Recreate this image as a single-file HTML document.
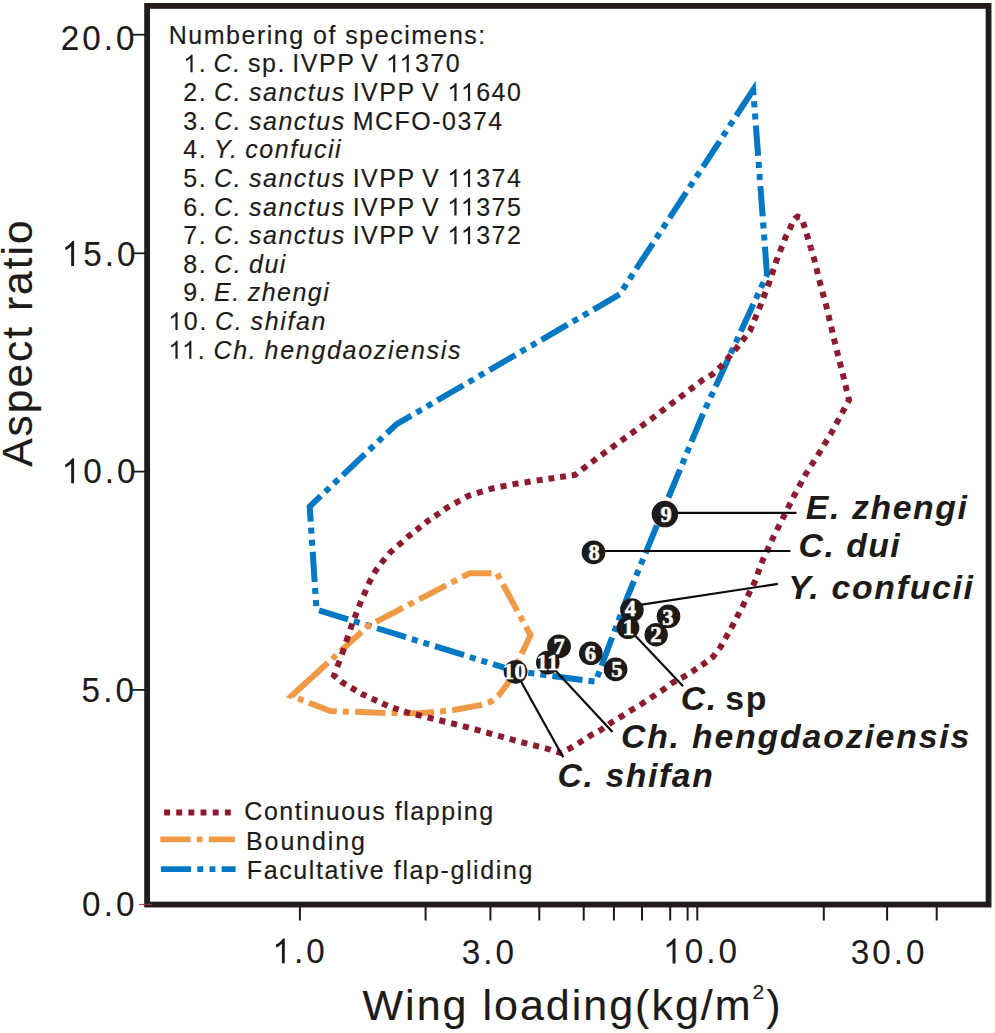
<!DOCTYPE html>
<html><head><meta charset="utf-8"><style>
html,body{margin:0;padding:0;background:#fff;width:995px;height:1033px;overflow:hidden}
svg{display:block}
.h1{fill-opacity:0}
.cn{font-family:"Liberation Serif",serif;font-weight:bold;font-size:22.5px;fill:#fff;stroke:#fff;stroke-width:0.55px}
text{font-family:"Liberation Sans",sans-serif;fill:#1d1a18;stroke:#1d1a18;stroke-width:0.15px}
.h1{stroke-opacity:0}
</style></head><body>
<svg width="995" height="1033" viewBox="0 0 995 1033">
<rect x="147.1" y="5.9" width="841.45" height="898.65" fill="none" stroke="#211c19" stroke-width="5.8"/>
<line x1="132.5" y1="34.7" x2="145" y2="34.7" stroke="#1d1a18" stroke-width="1.8"/>
<line x1="132.5" y1="253.3" x2="145" y2="253.3" stroke="#1d1a18" stroke-width="1.8"/>
<line x1="132.5" y1="471.6" x2="145" y2="471.6" stroke="#1d1a18" stroke-width="1.8"/>
<line x1="132.5" y1="689.9" x2="145" y2="689.9" stroke="#1d1a18" stroke-width="1.8"/>
<line x1="139" y1="904.4" x2="152" y2="904.4" stroke="#b5303a" stroke-width="1"/>
<line x1="299.9" y1="906" x2="299.9" y2="920.5" stroke="#1d1a18" stroke-width="2"/>
<line x1="425.6" y1="906" x2="425.6" y2="920.5" stroke="#1d1a18" stroke-width="2"/>
<line x1="490.4" y1="906" x2="490.4" y2="920.5" stroke="#1d1a18" stroke-width="2"/>
<line x1="539.3" y1="906" x2="539.3" y2="920.5" stroke="#1d1a18" stroke-width="2"/>
<line x1="583.7" y1="906" x2="583.7" y2="920.5" stroke="#1d1a18" stroke-width="2"/>
<line x1="613.9" y1="906" x2="613.9" y2="920.5" stroke="#1d1a18" stroke-width="2"/>
<line x1="642.0" y1="906" x2="642.0" y2="920.5" stroke="#1d1a18" stroke-width="2"/>
<line x1="670.2" y1="906" x2="670.2" y2="920.5" stroke="#1d1a18" stroke-width="2"/>
<line x1="687.6" y1="906" x2="687.6" y2="920.5" stroke="#1d1a18" stroke-width="2"/>
<line x1="697.3" y1="906" x2="697.3" y2="920.5" stroke="#1d1a18" stroke-width="2"/>
<line x1="823.8" y1="906" x2="823.8" y2="920.5" stroke="#1d1a18" stroke-width="2"/>
<line x1="887.1" y1="906" x2="887.1" y2="920.5" stroke="#1d1a18" stroke-width="2"/>
<line x1="936.7" y1="906" x2="936.7" y2="920.5" stroke="#1d1a18" stroke-width="2"/>
<g fill="none" stroke="#0078c3" stroke-width="6" stroke-linejoin="miter">
<path d="M325.15,491.85 L329.57,487.66"/>
<path d="M333.98,483.48 L338.40,479.29"/>
<path d="M342.81,475.10 L364.89,454.17"/>
<path d="M369.30,449.99 L373.72,445.80"/>
<path d="M378.13,441.61 L382.55,437.43"/>
<path d="M386.96,433.24 L396.60,424.10 L411.27,415.57"/>
<path d="M416.48,412.54 L421.69,409.51"/>
<path d="M426.89,406.48 L432.10,403.45"/>
<path d="M437.31,400.42 L463.35,385.28"/>
<path d="M468.56,382.25 L473.77,379.22"/>
<path d="M478.98,376.19 L484.19,373.16"/>
<path d="M489.39,370.13 L515.43,354.98"/>
<path d="M520.64,351.95 L525.85,348.93"/>
<path d="M531.06,345.90 L536.27,342.87"/>
<path d="M541.48,339.84 L567.52,324.69"/>
<path d="M572.73,321.66 L577.93,318.63"/>
<path d="M583.14,315.60 L588.35,312.58"/>
<path d="M593.56,309.55 L619.60,294.40"/>
<path d="M622.93,289.30 L626.27,284.19"/>
<path d="M629.60,279.09 L632.93,273.98"/>
<path d="M636.26,268.88 L652.93,243.36"/>
<path d="M656.26,238.25 L659.59,233.15"/>
<path d="M662.93,228.05 L666.26,222.94"/>
<path d="M669.59,217.84 L686.26,192.32"/>
<path d="M689.59,187.21 L692.92,182.11"/>
<path d="M696.26,177.01 L699.59,171.90"/>
<path d="M702.92,166.80 L719.59,141.28"/>
<path d="M722.92,136.17 L726.25,131.07"/>
<path d="M729.59,125.96 L732.92,120.86"/>
<path d="M736.25,115.76 L753.20,89.80 L753.61,95.28"/>
<path d="M754.06,101.34 L754.51,107.39"/>
<path d="M754.97,113.45 L755.42,119.50"/>
<path d="M755.87,125.56 L758.13,155.83"/>
<path d="M758.59,161.88 L759.04,167.94"/>
<path d="M759.49,173.99 L759.94,180.05"/>
<path d="M760.40,186.10 L762.66,216.38"/>
<path d="M763.11,222.43 L763.56,228.49"/>
<path d="M764.01,234.54 L764.47,240.59"/>
<path d="M764.92,246.65 L767.00,274.50 L765.99,276.69"/>
<path d="M763.48,282.18 L760.96,287.66"/>
<path d="M758.44,293.15 L755.92,298.63"/>
<path d="M753.40,304.12 L740.82,331.55"/>
<path d="M738.30,337.03 L735.78,342.52"/>
<path d="M733.26,348.00 L730.74,353.49"/>
<path d="M728.23,358.97 L715.64,386.40"/>
<path d="M713.12,391.88 L710.60,397.37"/>
<path d="M708.08,402.85 L705.57,408.34"/>
<path d="M703.05,413.82 L702.60,414.80 L691.50,441.70"/>
<path d="M689.19,447.28 L686.89,452.86"/>
<path d="M684.59,458.44 L682.28,464.01"/>
<path d="M679.98,469.59 L668.47,497.49"/>
<path d="M666.16,503.07 L663.86,508.65"/>
<path d="M661.56,514.22 L659.26,519.80"/>
<path d="M656.95,525.38 L645.44,553.28"/>
<path d="M643.14,558.85 L640.83,564.43"/>
<path d="M638.53,570.01 L636.23,575.59"/>
<path d="M633.92,581.17 L627.10,597.70 L622.77,609.21"/>
<path d="M620.65,614.85 L618.52,620.50"/>
<path d="M616.40,626.15 L614.27,631.80"/>
<path d="M612.15,637.45 L601.52,665.69"/>
<path d="M599.40,671.34 L597.27,676.99"/>
<path d="M594.50,681.57 L588.48,680.77"/>
<path d="M582.46,679.97 L552.36,675.97"/>
<path d="M546.35,675.17 L540.33,674.37"/>
<path d="M534.31,673.57 L528.29,672.77"/>
<path d="M522.27,671.97 L515.00,671.00 L493.01,664.19"/>
<path d="M487.21,662.39 L481.41,660.59"/>
<path d="M475.61,658.80 L469.81,657.00"/>
<path d="M464.01,655.20 L435.01,646.22"/>
<path d="M429.21,644.42 L423.41,642.62"/>
<path d="M417.61,640.83 L411.81,639.03"/>
<path d="M406.01,637.23 L377.01,628.25"/>
<path d="M371.21,626.45 L365.41,624.65"/>
<path d="M359.61,622.86 L353.81,621.06"/>
<path d="M348.01,619.26 L319.01,610.28"/>
<path d="M316.27,606.08 L315.88,600.04"/>
<path d="M315.48,594.01 L315.08,587.97"/>
<path d="M314.68,581.94 L312.69,551.76"/>
<path d="M312.29,545.73 L311.89,539.69"/>
<path d="M311.49,533.66 L311.09,527.62"/>
<path d="M310.70,521.59 L309.70,506.50 L320.74,496.03"/>
</g>
<g fill="none" stroke="#ef9a46" stroke-width="6" stroke-linejoin="miter">
<path d="M298.06,698.52 L303.49,700.61"/>
<path d="M308.93,702.70 L330.50,711.00 L336.78,711.22"/>
<path d="M342.86,711.44 L348.94,711.65"/>
<path d="M355.02,711.87 L385.42,712.95"/>
<path d="M391.50,713.04 L397.58,713.10"/>
<path d="M403.66,713.15 L420.00,713.30 L434.02,712.04"/>
<path d="M440.07,711.42 L446.12,710.80"/>
<path d="M452.18,710.17 L453.80,710.00 L480.30,705.10 L482.04,704.53"/>
<path d="M487.82,702.62 L491.20,701.50 L493.11,699.86"/>
<path d="M497.73,695.90 L499.60,694.30 L506.90,684.60 L513.72,670.33"/>
<path d="M516.34,664.84 L518.96,659.35"/>
<path d="M521.58,653.86 L530.50,635.20 L525.91,626.72"/>
<path d="M523.04,621.42 L520.18,616.13"/>
<path d="M517.31,610.83 L502.97,584.34"/>
<path d="M500.11,579.04 L497.24,573.74"/>
<path d="M491.50,573.28 L469.50,573.20 L462.31,576.94"/>
<path d="M456.92,579.74 L451.54,582.55"/>
<path d="M446.15,585.35 L419.20,599.37"/>
<path d="M413.81,602.17 L408.42,604.97"/>
<path d="M403.03,607.78 L376.08,621.79"/>
<path d="M370.69,624.60 L368.00,626.00 L365.89,627.93"/>
<path d="M361.66,631.80 L340.54,651.12"/>
<path d="M336.32,654.99 L332.10,658.85"/>
<path d="M327.87,662.72 L291.50,696.00 L292.62,696.43"/>
</g>
<g fill="none" stroke="#8b1b2e" stroke-width="6" stroke-linejoin="miter">
<path d="M802.99,222.21 L803.70,224.40 L804.78,227.89"/>
<path d="M806.55,233.59 L807.20,235.70 L808.27,239.30"/>
<path d="M809.96,245.01 L810.81,247.87"/>
<path d="M810.81,247.87 L811.67,250.77"/>
<path d="M813.39,256.57 L814.20,259.30 L814.96,262.40"/>
<path d="M816.41,268.28 L817.85,274.15"/>
<path d="M819.30,280.03 L820.20,283.70 L820.80,285.88"/>
<path d="M822.40,291.72 L824.00,297.55"/>
<path d="M825.60,303.38 L826.40,306.30 L827.08,309.23"/>
<path d="M828.45,315.08 L829.82,320.94"/>
<path d="M831.19,326.79 L832.56,332.65"/>
<path d="M833.92,338.50 L834.60,341.40 L835.34,344.35"/>
<path d="M836.79,350.18 L838.25,356.01"/>
<path d="M839.71,361.84 L841.17,367.68"/>
<path d="M842.63,373.51 L843.50,377.00 L844.06,379.35"/>
<path d="M845.46,385.20 L846.86,391.04"/>
<path d="M848.26,396.89 L849.00,400.00 L847.65,402.51"/>
<path d="M844.78,407.88 L842.90,411.40 L841.91,413.24"/>
<path d="M839.03,418.60 L836.15,423.97"/>
<path d="M833.27,429.33 L831.40,432.80 L830.30,434.63"/>
<path d="M827.16,439.85 L824.02,445.06"/>
<path d="M820.88,450.28 L819.00,453.40 L817.68,455.45"/>
<path d="M814.40,460.58 L811.12,465.70"/>
<path d="M807.83,470.82 L805.80,474.00 L804.70,476.04"/>
<path d="M801.81,481.39 L798.92,486.75"/>
<path d="M796.03,492.10 L794.30,495.30 L793.20,497.49"/>
<path d="M790.48,502.93 L787.76,508.38"/>
<path d="M785.04,513.82 L783.60,516.70 L782.32,519.26"/>
<path d="M779.60,524.71 L776.88,530.15"/>
<path d="M774.15,535.59 L772.90,538.10 L771.52,541.08"/>
<path d="M768.97,546.60 L766.41,552.12"/>
<path d="M763.86,557.65 L763.00,559.50 L761.61,563.25"/>
<path d="M759.53,568.87 L757.44,574.49"/>
<path d="M755.36,580.11 L754.40,582.70 L752.95,585.60"/>
<path d="M750.27,590.96 L747.59,596.32"/>
<path d="M744.91,601.69 L743.50,604.50 L742.19,607.03"/>
<path d="M739.42,612.35 L736.66,617.67"/>
<path d="M733.90,622.99 L732.60,625.50 L731.04,628.26"/>
<path d="M728.09,633.49 L725.15,638.71"/>
<path d="M722.20,643.93 L720.30,647.30 L719.00,648.99"/>
<path d="M715.35,653.74 L713.00,656.80 L711.30,658.10"/>
<path d="M706.54,661.75 L703.60,664.00 L701.70,665.27"/>
<path d="M696.72,668.61 L692.70,671.30 L691.71,671.91"/>
<path d="M686.59,675.03 L683.20,677.10 L681.41,678.05"/>
<path d="M676.12,680.87 L672.30,682.90 L670.88,683.97"/>
<path d="M665.93,687.73 L662.40,690.40 L660.90,691.36"/>
<path d="M655.67,694.73 L652.60,696.70 L650.47,698.13"/>
<path d="M645.31,701.58 L642.00,703.80 L640.09,704.95"/>
<path d="M634.76,708.14 L631.50,710.10 L629.46,711.40"/>
<path d="M624.22,714.73 L621.60,716.40 L619.02,717.97"/>
<path d="M613.86,721.12 L611.10,722.80 L608.80,724.42"/>
<path d="M603.87,727.91 L601.20,729.80 L598.75,731.11"/>
<path d="M593.42,733.95 L590.70,735.40 L588.21,737.01"/>
<path d="M583.13,740.29 L580.80,741.80 L578.00,743.48"/>
<path d="M572.82,746.59 L570.30,748.10 L567.55,749.55"/>
<path d="M562.20,752.37 L561.00,753.00 L556.52,751.59"/>
<path d="M550.74,749.76 L547.70,748.80 L544.92,748.09"/>
<path d="M539.04,746.60 L533.16,745.10"/>
<path d="M527.29,743.61 L521.41,742.11"/>
<path d="M515.55,740.55 L509.71,738.94"/>
<path d="M503.86,737.32 L498.02,735.71"/>
<path d="M492.17,734.10 L486.33,732.49"/>
<path d="M480.48,730.87 L474.63,729.26"/>
<path d="M468.79,727.65 L466.80,727.10 L462.92,726.13"/>
<path d="M457.03,724.67 L451.15,723.21"/>
<path d="M445.26,721.75 L439.38,720.28"/>
<path d="M433.50,718.82 L430.20,718.00 L427.61,717.36"/>
<path d="M421.72,715.92 L415.83,714.47"/>
<path d="M409.94,713.02 L407.00,712.30 L404.23,711.39"/>
<path d="M398.68,709.57 L393.14,707.75"/>
<path d="M387.63,705.84 L382.32,703.40"/>
<path d="M377.02,700.97 L371.72,698.53"/>
<path d="M366.42,696.09 L362.10,694.10 L361.17,693.55"/>
<path d="M356.14,690.58 L351.12,687.61"/>
<path d="M346.09,684.65 L341.10,681.70 L341.07,681.67"/>
<path d="M336.67,677.83 L334.00,675.50 L334.94,673.00"/>
<path d="M337.27,666.83 L339.20,661.70 L339.57,660.66"/>
<path d="M341.80,654.45 L344.00,648.30 L344.02,648.24"/>
<path d="M346.10,641.98 L348.18,635.72"/>
<path d="M350.25,629.46 L351.60,625.40 L352.34,623.52"/>
<path d="M354.52,617.92 L356.71,612.33"/>
<path d="M358.90,606.73 L360.20,603.40 L361.19,601.11"/>
<path d="M363.64,595.47 L366.09,589.83"/>
<path d="M368.53,584.19 L369.70,581.50 L371.25,578.68"/>
<path d="M374.22,573.29 L375.70,570.60 L377.53,568.16"/>
<path d="M381.19,563.28 L382.90,561.00 L385.00,558.52"/>
<path d="M388.94,553.87 L390.10,552.50 L393.36,549.68"/>
<path d="M397.97,545.69 L399.80,544.10 L402.55,541.66"/>
<path d="M407.12,537.62 L409.40,535.60 L411.68,533.79"/>
<path d="M416.23,530.16 L420.79,526.54"/>
<path d="M425.34,522.92 L427.50,521.20 L430.02,519.46"/>
<path d="M434.82,516.16 L439.61,512.85"/>
<path d="M444.40,509.55 L446.80,507.90 L449.47,506.41"/>
<path d="M454.82,503.43 L460.16,500.45"/>
<path d="M465.50,497.47 L468.50,495.80 L471.06,495.00"/>
<path d="M476.90,493.17 L482.74,491.34"/>
<path d="M488.58,489.51 L491.50,488.60 L494.50,488.00"/>
<path d="M500.50,486.81 L506.50,485.61"/>
<path d="M512.51,484.42 L515.60,483.80 L518.53,483.35"/>
<path d="M524.58,482.42 L530.63,481.49"/>
<path d="M536.68,480.56 L539.70,480.10 L542.61,479.67"/>
<path d="M548.44,478.80 L554.26,477.93"/>
<path d="M560.08,477.06 L563.80,476.50 L565.91,476.22"/>
<path d="M571.75,475.44 L575.00,475.00 L577.14,473.36"/>
<path d="M581.96,469.66 L586.78,465.97"/>
<path d="M591.61,462.28 L595.10,459.60 L596.45,458.62"/>
<path d="M601.38,455.06 L606.30,451.51"/>
<path d="M611.22,447.95 L616.14,444.39"/>
<path d="M621.07,440.84 L624.30,438.50 L625.99,437.28"/>
<path d="M630.90,433.71 L635.82,430.15"/>
<path d="M640.74,426.58 L645.65,423.02"/>
<path d="M650.57,419.45 L653.40,417.40 L655.46,415.84"/>
<path d="M660.30,412.18 L665.14,408.51"/>
<path d="M669.98,404.85 L674.83,401.18"/>
<path d="M679.67,397.52 L682.60,395.30 L684.51,393.85"/>
<path d="M689.34,390.17 L694.17,386.49"/>
<path d="M699.01,382.81 L702.70,380.00 L703.94,379.28"/>
<path d="M709.19,376.23 L712.50,374.30 L714.13,372.77"/>
<path d="M718.56,368.60 L720.90,366.40 L722.76,364.23"/>
<path d="M726.71,359.62 L730.67,355.01"/>
<path d="M734.62,350.40 L736.60,348.10 L738.47,345.72"/>
<path d="M742.20,340.95 L745.93,336.19"/>
<path d="M749.67,331.42 L750.00,331.00 L752.09,325.89"/>
<path d="M754.38,320.29 L756.67,314.69"/>
<path d="M758.96,309.08 L760.10,306.30 L761.19,303.46"/>
<path d="M763.37,297.81 L765.56,292.13"/>
<path d="M767.75,286.42 L768.80,283.70 L769.82,280.66"/>
<path d="M771.76,274.85 L773.70,269.05"/>
<path d="M775.65,263.25 L776.70,260.10 L777.71,257.49"/>
<path d="M779.90,251.78 L782.10,246.07"/>
<path d="M784.30,240.36 L785.40,237.50 L786.74,234.80"/>
<path d="M789.41,229.40 L790.60,227.00 L791.91,223.91"/>
<path d="M794.87,218.69 L795.00,218.50 L797.50,216.60 L800.06,217.17"/>
</g>
<line x1="164.1" y1="812.5" x2="231" y2="812.5" stroke="#8b1b2e" stroke-width="5.9" stroke-dasharray="5.9 6.26"/>
<line x1="160.3" y1="839.4" x2="235" y2="839.4" stroke="#ef9a46" stroke-width="5.9" stroke-dasharray="30.3 6.1 5.9 6.2"/>
<line x1="160.9" y1="869.2" x2="235.6" y2="869.2" stroke="#0078c3" stroke-width="5.8" stroke-dasharray="30.2 6.2 5.9 6.3 5.9 6.2"/>
<line x1="664.9" y1="512.9" x2="796.5" y2="512.9" stroke="#0d0909" stroke-width="2.2"/>
<line x1="593.5" y1="551.0" x2="790.5" y2="551.0" stroke="#0d0909" stroke-width="2.2"/>
<line x1="631.9" y1="606.1" x2="777.8" y2="583.9" stroke="#0d0909" stroke-width="2.2"/>
<line x1="628" y1="628" x2="683.1" y2="686.2" stroke="#0d0909" stroke-width="2.2"/>
<line x1="548.2" y1="662.8" x2="612.5" y2="731.9" stroke="#0d0909" stroke-width="2.2"/>
<line x1="515.6" y1="671.8" x2="563.2" y2="757.2" stroke="#0d0909" stroke-width="2.2"/>
<circle cx="664.9" cy="514.1" r="13.25" fill="#1d1a18"/>
<text x="666.10" y="522.00" text-anchor="middle" class="cn">9</text>
<circle cx="593.5" cy="552.4" r="11.85" fill="#1d1a18"/>
<text x="594.15" y="560.35" text-anchor="middle" class="cn">8</text>
<circle cx="631.9" cy="610.1" r="11.8" fill="#1d1a18"/>
<text x="630.45" y="616.35" text-anchor="middle" class="cn">4</text>
<circle cx="668.5" cy="616.3" r="11.8" fill="#1d1a18"/>
<text x="667.80" y="625.15" text-anchor="middle" class="cn">3</text>
<circle cx="656.2" cy="634.8" r="11.7" fill="#1d1a18"/>
<text x="655.85" y="641.65" text-anchor="middle" class="cn">2</text>
<circle cx="628" cy="627.7" r="11.4" fill="#1d1a18"/>
<text x="628.25" y="635.30" text-anchor="middle" class="cn">1</text>
<circle cx="559" cy="646.4" r="11.9" fill="#1d1a18"/>
<text x="559.10" y="654.30" text-anchor="middle" class="cn">7</text>
<circle cx="590.8" cy="653.3" r="11.8" fill="#1d1a18"/>
<text x="590.40" y="660.80" text-anchor="middle" class="cn">6</text>
<circle cx="547.8" cy="662.6" r="11.8" fill="#1d1a18"/>
<text x="547.85" y="669.60" text-anchor="middle" class="cn" letter-spacing="0.6">11</text>
<circle cx="615.6" cy="669.4" r="11.8" fill="#1d1a18"/>
<text x="616.75" y="677.15" text-anchor="middle" class="cn">5</text>
<circle cx="515.6" cy="671.8" r="11.9" fill="#1d1a18"/>
<text x="514.55" y="679.25" text-anchor="middle" class="cn" letter-spacing="0.6">10</text>
<text transform="translate(60.7,50.3) scale(0.957,1)" font-size="34.75" letter-spacing="3.2" style="stroke-width:0.1">20.0</text>
<text transform="translate(61.7,266) scale(0.957,1)" font-size="34.75" letter-spacing="3.2" style="stroke-width:0.1"><tspan class="h1">1</tspan>5.0</text>
<text transform="translate(61.7,483.2) scale(0.957,1)" font-size="34.75" letter-spacing="3.2" style="stroke-width:0.1"><tspan class="h1">1</tspan>0.0</text>
<text transform="translate(81.6,701.8) scale(0.957,1)" font-size="34.75" letter-spacing="3.2" style="stroke-width:0.1">5.0</text>
<text transform="translate(82.1,916.3) scale(0.957,1)" font-size="34.75" letter-spacing="3.2" style="stroke-width:0.1">0.0</text>
<text transform="translate(272.4,963.3) scale(0.957,1)" font-size="34.75" letter-spacing="3.2" style="stroke-width:0.1"><tspan class="h1">1</tspan>.0</text>
<text transform="translate(461.7,963.6) scale(0.957,1)" font-size="34.75" letter-spacing="3.2" style="stroke-width:0.1">3.0</text>
<text transform="translate(663.1,963.4) scale(0.957,1)" font-size="34.75" letter-spacing="3.2" style="stroke-width:0.1"><tspan class="h1">1</tspan>0.0</text>
<text transform="translate(850.7,964) scale(0.957,1)" font-size="34.75" letter-spacing="3.2" style="stroke-width:0.1">30.0</text>
<text x="362.5" y="1020.2" font-size="43" letter-spacing="2">Wing loading(kg/m<tspan font-size="21" dy="-21">2</tspan><tspan dy="21">)</tspan></text>
<text transform="translate(32.1,466.8) rotate(-90)" font-size="42.5" letter-spacing="2">Aspect ratio</text>
<text transform="translate(168.8,43.7) scale(1,1.0)" font-size="25" letter-spacing="1.5">Numbering of specimens:</text>
<text transform="translate(183.3,72.34) scale(1,1.0)" font-size="25" letter-spacing="1.5" word-spacing="-2.0"><tspan class="h1">1</tspan>. <tspan font-style="italic">C.</tspan> sp. IVPP V <tspan class="h1">1</tspan><tspan class="h1">1</tspan>370</text>
<text transform="translate(183.3,100.98) scale(1,1.0)" font-size="25" letter-spacing="1.5" word-spacing="-1.5">2. <tspan font-style="italic">C. sanctus</tspan> IVPP V <tspan class="h1">1</tspan><tspan class="h1">1</tspan>640</text>
<text transform="translate(183.3,129.62) scale(1,1.0)" font-size="25" letter-spacing="1.5" word-spacing="-1.5">3. <tspan font-style="italic">C. sanctus</tspan> MCFO-0374</text>
<text transform="translate(183.3,158.26) scale(1,1.0)" font-size="25" letter-spacing="1.5" word-spacing="-1.5">4. <tspan font-style="italic">Y. confucii</tspan></text>
<text transform="translate(183.3,186.9) scale(1,1.0)" font-size="25" letter-spacing="1.5" word-spacing="-1.5">5. <tspan font-style="italic">C. sanctus</tspan> IVPP V <tspan class="h1">1</tspan><tspan class="h1">1</tspan>374</text>
<text transform="translate(183.3,215.54) scale(1,1.0)" font-size="25" letter-spacing="1.5" word-spacing="-1.5">6. <tspan font-style="italic">C. sanctus</tspan> IVPP V <tspan class="h1">1</tspan><tspan class="h1">1</tspan>375</text>
<text transform="translate(183.3,244.18) scale(1,1.0)" font-size="25" letter-spacing="1.5" word-spacing="-1.5">7. <tspan font-style="italic">C. sanctus</tspan> IVPP V <tspan class="h1">1</tspan><tspan class="h1">1</tspan>372</text>
<text transform="translate(183.3,272.82) scale(1,1.0)" font-size="25" letter-spacing="1.5" word-spacing="-1.5">8. <tspan font-style="italic">C. dui</tspan></text>
<text transform="translate(183.3,301.46) scale(1,1.0)" font-size="25" letter-spacing="1.5" word-spacing="-1.5">9. <tspan font-style="italic">E. zhengi</tspan></text>
<text transform="translate(168.3,330.1) scale(1,1.0)" font-size="25" letter-spacing="1.65" word-spacing="-1.5"><tspan class="h1">1</tspan>0. <tspan font-style="italic">C. shifan</tspan></text>
<text transform="translate(168.3,358.74) scale(1,1.0)" font-size="25" letter-spacing="1.7" word-spacing="-1.5"><tspan class="h1">1</tspan><tspan class="h1">1</tspan>. <tspan font-style="italic">Ch. hengdaoziensis</tspan></text>
<text transform="translate(244.3,819.9) scale(1,1.0)" font-size="25" letter-spacing="1.55">Continuous flapping</text>
<text transform="translate(246,849.8) scale(1,1.0)" font-size="25" letter-spacing="1.9">Bounding</text>
<text transform="translate(246.8,879.4) scale(1,1.0)" font-size="25" letter-spacing="1.6">Facultative flap-gliding</text>
<text x="805.8" y="519" font-size="33.8" font-weight="bold" font-style="italic" letter-spacing="1.6" style="stroke-width:0">E. zhengi</text>
<text x="798.6" y="557.2" font-size="33.8" font-weight="bold" font-style="italic" letter-spacing="1.46" style="stroke-width:0">C. dui</text>
<text x="788.2" y="599.2" font-size="33.8" font-weight="bold" font-style="italic" letter-spacing="1.7" style="stroke-width:0">Y. confucii</text>
<text x="680.8" y="710" font-size="33.8" font-weight="bold" font-style="italic" letter-spacing="1.6" style="stroke-width:0">C.<tspan font-style="normal" dx="-3.5"> sp</tspan></text>
<text x="620.9" y="747.9" font-size="33.8" font-weight="bold" font-style="italic" letter-spacing="1.83" style="stroke-width:0">Ch. hengdaoziensis</text>
<text x="557.4" y="787" font-size="33.8" font-weight="bold" font-style="italic" letter-spacing="1.6" style="stroke-width:0">C. shifan</text>
<g transform="translate(61.7,266) scale(0.957,1)"><path transform="translate(0.00,0.00) scale(0.01697,-0.01697)" d="M763,0 L583,0 L583,1147 Q518,1085 415,1024.5 Q312,964 223,931 L223,1105 Q371,1175 482.5,1274.5 Q594,1374 651,1466 L763,1466 Z" fill="#1d1a18"/></g>
<g transform="translate(61.7,483.2) scale(0.957,1)"><path transform="translate(0.00,0.00) scale(0.01697,-0.01697)" d="M763,0 L583,0 L583,1147 Q518,1085 415,1024.5 Q312,964 223,931 L223,1105 Q371,1175 482.5,1274.5 Q594,1374 651,1466 L763,1466 Z" fill="#1d1a18"/></g>
<g transform="translate(272.4,963.3) scale(0.957,1)"><path transform="translate(0.00,0.00) scale(0.01697,-0.01697)" d="M763,0 L583,0 L583,1147 Q518,1085 415,1024.5 Q312,964 223,931 L223,1105 Q371,1175 482.5,1274.5 Q594,1374 651,1466 L763,1466 Z" fill="#1d1a18"/></g>
<g transform="translate(663.1,963.4) scale(0.957,1)"><path transform="translate(0.00,0.00) scale(0.01697,-0.01697)" d="M763,0 L583,0 L583,1147 Q518,1085 415,1024.5 Q312,964 223,931 L223,1105 Q371,1175 482.5,1274.5 Q594,1374 651,1466 L763,1466 Z" fill="#1d1a18"/></g>
<g transform="translate(183.3,72.34) scale(1,1.0)"><path transform="translate(0.00,0.00) scale(0.01221,-0.01221)" d="M763,0 L583,0 L583,1147 Q518,1085 415,1024.5 Q312,964 223,931 L223,1105 Q371,1175 482.5,1274.5 Q594,1374 651,1466 L763,1466 Z" fill="#1d1a18"/></g>
<g transform="translate(183.3,72.34) scale(1,1.0)"><path transform="translate(202.64,0.00) scale(0.01221,-0.01221)" d="M763,0 L583,0 L583,1147 Q518,1085 415,1024.5 Q312,964 223,931 L223,1105 Q371,1175 482.5,1274.5 Q594,1374 651,1466 L763,1466 Z" fill="#1d1a18"/></g>
<g transform="translate(183.3,72.34) scale(1,1.0)"><path transform="translate(216.20,0.00) scale(0.01221,-0.01221)" d="M763,0 L583,0 L583,1147 Q518,1085 415,1024.5 Q312,964 223,931 L223,1105 Q371,1175 482.5,1274.5 Q594,1374 651,1466 L763,1466 Z" fill="#1d1a18"/></g>
<g transform="translate(183.3,100.98) scale(1,1.0)"><path transform="translate(263.94,0.00) scale(0.01221,-0.01221)" d="M763,0 L583,0 L583,1147 Q518,1085 415,1024.5 Q312,964 223,931 L223,1105 Q371,1175 482.5,1274.5 Q594,1374 651,1466 L763,1466 Z" fill="#1d1a18"/></g>
<g transform="translate(183.3,100.98) scale(1,1.0)"><path transform="translate(277.50,0.00) scale(0.01221,-0.01221)" d="M763,0 L583,0 L583,1147 Q518,1085 415,1024.5 Q312,964 223,931 L223,1105 Q371,1175 482.5,1274.5 Q594,1374 651,1466 L763,1466 Z" fill="#1d1a18"/></g>
<g transform="translate(183.3,186.9) scale(1,1.0)"><path transform="translate(263.94,0.00) scale(0.01221,-0.01221)" d="M763,0 L583,0 L583,1147 Q518,1085 415,1024.5 Q312,964 223,931 L223,1105 Q371,1175 482.5,1274.5 Q594,1374 651,1466 L763,1466 Z" fill="#1d1a18"/></g>
<g transform="translate(183.3,186.9) scale(1,1.0)"><path transform="translate(277.50,0.00) scale(0.01221,-0.01221)" d="M763,0 L583,0 L583,1147 Q518,1085 415,1024.5 Q312,964 223,931 L223,1105 Q371,1175 482.5,1274.5 Q594,1374 651,1466 L763,1466 Z" fill="#1d1a18"/></g>
<g transform="translate(183.3,215.54) scale(1,1.0)"><path transform="translate(263.94,0.00) scale(0.01221,-0.01221)" d="M763,0 L583,0 L583,1147 Q518,1085 415,1024.5 Q312,964 223,931 L223,1105 Q371,1175 482.5,1274.5 Q594,1374 651,1466 L763,1466 Z" fill="#1d1a18"/></g>
<g transform="translate(183.3,215.54) scale(1,1.0)"><path transform="translate(277.50,0.00) scale(0.01221,-0.01221)" d="M763,0 L583,0 L583,1147 Q518,1085 415,1024.5 Q312,964 223,931 L223,1105 Q371,1175 482.5,1274.5 Q594,1374 651,1466 L763,1466 Z" fill="#1d1a18"/></g>
<g transform="translate(183.3,244.18) scale(1,1.0)"><path transform="translate(263.94,0.00) scale(0.01221,-0.01221)" d="M763,0 L583,0 L583,1147 Q518,1085 415,1024.5 Q312,964 223,931 L223,1105 Q371,1175 482.5,1274.5 Q594,1374 651,1466 L763,1466 Z" fill="#1d1a18"/></g>
<g transform="translate(183.3,244.18) scale(1,1.0)"><path transform="translate(277.50,0.00) scale(0.01221,-0.01221)" d="M763,0 L583,0 L583,1147 Q518,1085 415,1024.5 Q312,964 223,931 L223,1105 Q371,1175 482.5,1274.5 Q594,1374 651,1466 L763,1466 Z" fill="#1d1a18"/></g>
<g transform="translate(168.3,330.1) scale(1,1.0)"><path transform="translate(0.00,0.00) scale(0.01221,-0.01221)" d="M763,0 L583,0 L583,1147 Q518,1085 415,1024.5 Q312,964 223,931 L223,1105 Q371,1175 482.5,1274.5 Q594,1374 651,1466 L763,1466 Z" fill="#1d1a18"/></g>
<g transform="translate(168.3,358.74) scale(1,1.0)"><path transform="translate(0.00,0.00) scale(0.01221,-0.01221)" d="M763,0 L583,0 L583,1147 Q518,1085 415,1024.5 Q312,964 223,931 L223,1105 Q371,1175 482.5,1274.5 Q594,1374 651,1466 L763,1466 Z" fill="#1d1a18"/></g>
<g transform="translate(168.3,358.74) scale(1,1.0)"><path transform="translate(13.75,0.00) scale(0.01221,-0.01221)" d="M763,0 L583,0 L583,1147 Q518,1085 415,1024.5 Q312,964 223,931 L223,1105 Q371,1175 482.5,1274.5 Q594,1374 651,1466 L763,1466 Z" fill="#1d1a18"/></g>
</svg>
</body></html>
